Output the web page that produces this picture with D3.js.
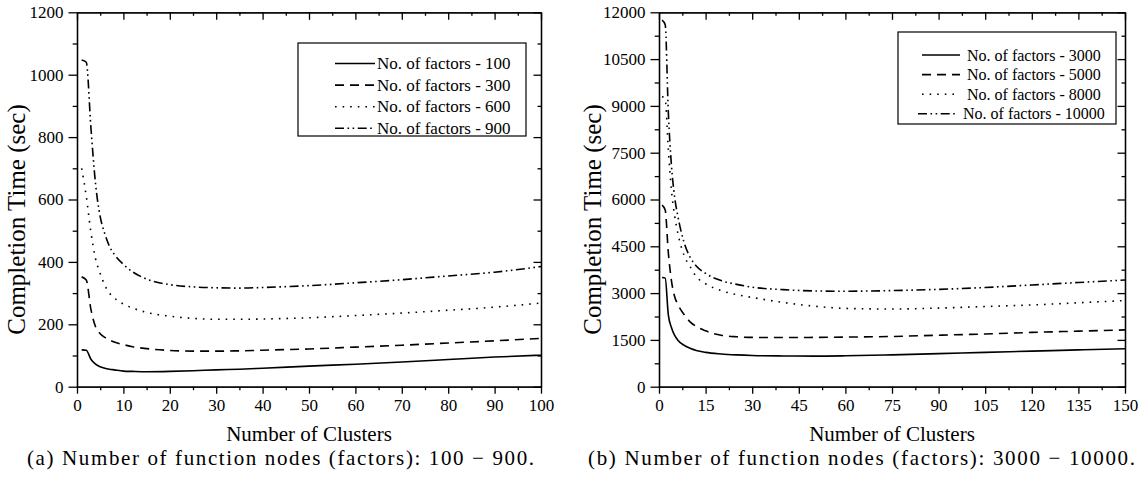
<!DOCTYPE html>
<html><head><meta charset="utf-8">
<script src="https://cdn.jsdelivr.net/npm/d3@7"></script>
<style>
body{margin:0;background:#fff;}
svg{display:block;}
text{font-family:"Liberation Serif","Times New Roman",serif;fill:#000;}
</style></head>
<body><svg id="c" width="1146" height="487"></svg>
<script>
// ---- data ----
const xLeft = [1,2,3,4,5,6,7,8,10,12,15,20,25,30,35,40,50,60,70,80,90,100];
const left100 = [118,117,88,72,64,59,56,54,50,49,48,49,51,54,56,59,66,72,79,87,95,101];
const left300 = [352,342,248,192,170,158,150,143,135,128,122,116,114,114,115,117,121,127,133,140,147,155];
const left600 = [700,610,495,410,363,325,300,285,265,252,238,226,219,216,216,217,221,228,236,245,255,268];
const left900 = [1047,1040,830,650,545,490,450,425,392,368,345,327,320,317,316,318,324,333,343,355,367,385];
const leftNames = ["No. of factors - 100","No. of factors - 300","No. of factors - 600","No. of factors - 900"];

const xRight = [1,2,3,4,5,6,8,10,12,15,20,25,30,40,50,60,75,90,105,120,135,150];
const r3000 = [3500,3480,2300,1900,1650,1500,1330,1230,1160,1100,1050,1020,1000,985,980,990,1020,1060,1100,1140,1180,1215];
const r5000 = [5820,5660,4300,3400,2900,2650,2320,2080,1930,1790,1650,1600,1580,1575,1580,1590,1610,1650,1690,1740,1780,1820];
const r8000 = [9300,9200,7600,6300,5500,4950,4230,3850,3530,3300,3080,2950,2860,2700,2580,2510,2490,2520,2570,2620,2690,2760];
const r10000 = [11750,11600,8800,7100,6100,5500,4650,4150,3870,3630,3400,3280,3190,3110,3070,3060,3080,3120,3180,3260,3340,3420];
const rightNames = ["No. of factors - 3000","No. of factors - 5000","No. of factors - 8000","No. of factors - 10000"];

const leftXTicks = [0,10,20,30,40,50,60,70,80,90,100];
const leftYTicks = [0,200,400,600,800,1000,1200];
const rightXTicks = [0,15,30,45,60,75,90,105,120,135,150];
const rightYTicks = [0,1500,3000,4500,6000,7500,9000,10500,12000];

const captionA = "(a)  Number of function nodes (factors):  100 \u2212 900.";
const captionB = "(b)  Number of function nodes (factors):  3000 \u2212 10000.";
const yTitle = "Completion Time (sec)";
const xTitle = "Number of Clusters";

// ---- styles ----
const dashes = [null, "9,6", "1.6,6", "9,3.5,1.6,3.5,1.6,3.5"];

const svg = d3.select("#c");

function panel(o){
  const g = svg.append("g");
  const x = d3.scaleLinear().domain(o.xDom).range([o.x0, o.x1]);
  const y = d3.scaleLinear().domain(o.yDom).range([o.y1, o.y0]);
  const sw = 1.3;
  const minorX = d3.range(o.xDom[0], o.xDom[1] + 1e-9, o.xStep/2).filter(v => !o.xTicks.includes(v));
  const minorY = d3.range(o.yDom[0], o.yDom[1] + 1e-9, o.yStep/2).filter(v => !o.yTicks.includes(v));

  function styleAx(sel){
    sel.selectAll("path.domain").attr("stroke","#000").attr("stroke-width",sw);
    sel.selectAll(".tick line").attr("stroke","#000").attr("stroke-width",sw);
    sel.selectAll(".tick text").style("font-family",'"Liberation Serif",serif').style("font-size","17px").attr("fill","#000");
  }
  // bottom
  g.append("g").attr("transform",`translate(0,${o.y1})`)
    .call(d3.axisBottom(x).tickValues(o.xTicks).tickSize(7).tickPadding(5).tickSizeOuter(0).tickFormat(d3.format("d")))
    .call(styleAx);
  g.append("g").attr("transform",`translate(0,${o.y1})`)
    .call(d3.axisBottom(x).tickValues(minorX).tickSize(3.5).tickSizeOuter(0).tickFormat(""))
    .call(styleAx);
  // top (inward)
  g.append("g").attr("transform",`translate(0,${o.y0})`)
    .call(d3.axisTop(x).tickValues(o.xTicks).tickSize(-7.5).tickSizeOuter(0).tickFormat(""))
    .call(styleAx);
  g.append("g").attr("transform",`translate(0,${o.y0})`)
    .call(d3.axisTop(x).tickValues(minorX).tickSize(-3.5).tickSizeOuter(0).tickFormat(""))
    .call(styleAx);
  // left
  g.append("g").attr("transform",`translate(${o.x0},0)`)
    .call(d3.axisLeft(y).tickValues(o.yTicks).tickSize(8.5).tickPadding(5).tickSizeOuter(0).tickFormat(d3.format("d")))
    .call(styleAx);
  g.append("g").attr("transform",`translate(${o.x0},0)`)
    .call(d3.axisLeft(y).tickValues(minorY).tickSize(4.3).tickSizeOuter(0).tickFormat(""))
    .call(styleAx);
  // right (inward)
  g.append("g").attr("transform",`translate(${o.x1},0)`)
    .call(d3.axisRight(y).tickValues(o.yTicks).tickSize(-7.5).tickSizeOuter(0).tickFormat(""))
    .call(styleAx);
  g.append("g").attr("transform",`translate(${o.x1},0)`)
    .call(d3.axisRight(y).tickValues(minorY).tickSize(-3.5).tickSizeOuter(0).tickFormat(""))
    .call(styleAx);

  // lines
  const line = d3.line().x((d,i)=>x(o.xs[i])).y(d=>y(d)).curve(d3.curveMonotoneX);
  o.series.forEach((s,k)=>{
    g.append("path").attr("d", line(s)).attr("fill","none").attr("stroke","#000")
      .attr("stroke-width",1.6).attr("stroke-dasharray",dashes[k]).attr("stroke-linecap","butt");
  });

  // titles
  g.append("text").attr("x",(o.x0+o.x1)/2).attr("y",441).attr("text-anchor","middle")
    .style("font-size","21px").text(xTitle);
  g.append("text").attr("transform",`translate(${o.yTitleX},${(o.y0+o.y1)/2 + 20}) rotate(-90)`)
    .attr("text-anchor","middle").style("font-size","25px").text(yTitle);

  // legend
  const L = o.leg;
  g.append("rect").attr("x",L.x0).attr("y",L.y0).attr("width",L.x1-L.x0).attr("height",L.y1-L.y0)
    .attr("fill","#fff").attr("stroke","#000").attr("stroke-width",1.2);
  o.names.forEach((nm,k)=>{
    const cy = L.rowY0 + k*L.rowDy;
    const off = (L.shift && L.shift[k]) || 0;
    g.append("line").attr("x1",L.sx0+off).attr("x2",L.sx1+off).attr("y1",cy).attr("y2",cy)
      .attr("stroke","#000").attr("stroke-width",1.6).attr("stroke-dasharray",dashes[k]);
    g.append("text").attr("x",L.tx+off).attr("y",cy+5.5).style("font-size",L.fs+"px").text(nm);
  });

  // caption
  g.append("text").attr("x",o.cap.x).attr("y",465).style("font-size","21px")
    .attr("textLength",o.cap.w).attr("lengthAdjust","spacing").text(o.cap.t);
}

panel({
  xDom:[0,100], yDom:[0,1200], x0:77, x1:541, y0:12.3, y1:386.7,
  xTicks:leftXTicks, yTicks:leftYTicks, xStep:10, yStep:200,
  xs:xLeft, series:[left100,left300,left600,left900], names:leftNames,
  yTitleX:25,
  leg:{x0:298,x1:526,y0:43,y1:136,rowY0:63.5,rowDy:21.6,sx0:335,sx1:375,tx:377,fs:17},
  cap:{x:27,w:507,t:captionA}
});
panel({
  xDom:[0,150], yDom:[0,12000], x0:659, x1:1125, y0:12.3, y1:386.7,
  xTicks:rightXTicks, yTicks:rightYTicks, xStep:15, yStep:1500,
  xs:xRight, series:[r3000,r5000,r8000,r10000], names:rightNames,
  yTitleX:601,
  leg:{x0:898,x1:1116,y0:32,y1:124,rowY0:55,rowDy:19.6,sx0:922,sx1:960,tx:967,fs:16,shift:[0,0,0,-4]},
  cap:{x:588,w:547,t:captionB}
});
</script></body></html>
